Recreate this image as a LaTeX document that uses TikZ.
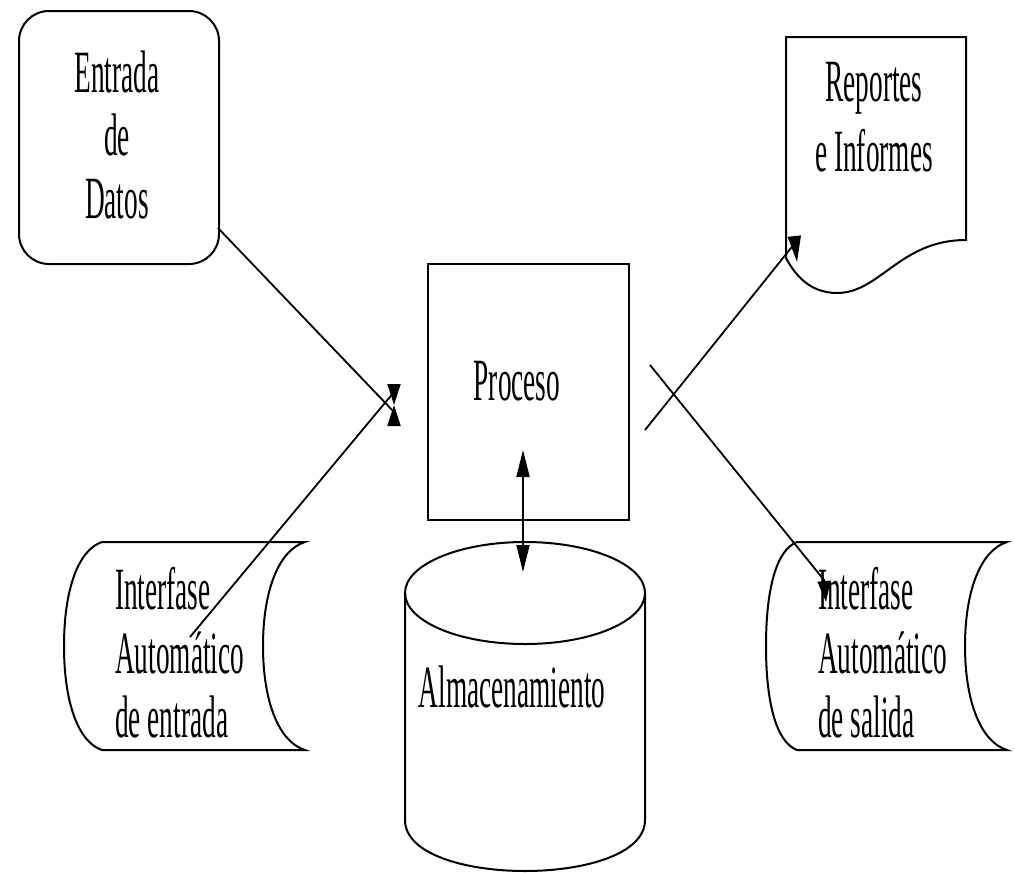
\documentclass[tikz,border=0pt]{standalone}
\usepackage{fontspec}
\setmainfont{Liberation Serif}
\usetikzlibrary{arrows.meta}
\newcommand\sqz[1]{\scalebox{0.455}[1]{#1}}
\begin{document}
\begin{tikzpicture}[x=1pt,y=-1pt,
  shp/.style={draw, line width=2pt},
  conn/.style={line width=1.8pt},
  tipend/.style={-{Triangle[length=21pt,width=13pt]}},
  txt/.style={font=\fontsize{60}{63}\selectfont, inner sep=0pt},
]
\useasboundingbox (0,0) rectangle (1015,873);

% Entrada de Datos
\node[shp, rounded corners=30pt, minimum width=200pt, minimum height=253pt, anchor=north west, inner sep=0pt] (ent) at (18,10) {};
\node[txt, align=center, anchor=north] (entT) at (117,51) {\sqz{Entrada}\\\sqz{de}\\\sqz{Datos}};

% Reportes e Informes (document)
\draw[shp] (786,37) -- (966,37) -- (966,240) .. controls (900,240) and (880,293) .. (837,293) .. controls (810,293) and (795,275) .. (786,258) -- cycle;
\node[txt, font=\fontsize{60}{70}\selectfont, align=center, anchor=north] (repT) at (874,62) {\sqz{Reportes}\\\sqz{e Informes}};

% Proceso
\node[shp, minimum width=201pt, minimum height=256pt, anchor=north west, inner sep=0pt] (proc) at (427,263) {};
\node[txt, anchor=base] (procT) at (517,400) {\sqz{Proceso}};

% Almacenamiento (cylinder)
\draw[shp] (405,593) -- (405,820) .. controls (405,888) and (645,888) .. (645,820) -- (645,593);
\draw[shp] (525,593) ellipse [x radius=120, y radius=51];
\node[txt, anchor=base] (almT) at (512,707) {\sqz{Almacenamiento}};

% Interfase de entrada
\draw[shp] (102,542) -- (305,542)
  .. controls (279,550) and (263,590) .. (263,646)
  .. controls (263,702) and (279,742) .. (305,750)
  -- (102,750)
  .. controls (78,742) and (64,702) .. (64,646)
  .. controls (64,590) and (78,550) .. (102,542) -- cycle;
\node[txt, font=\fontsize{60}{64}\selectfont, align=left, anchor=north west] (tinT) at (115,567) {\sqz{Interfase}\\\sqz{Automático}\\\sqz{de entrada}};

% Interfase de salida
\draw[shp] (797,542) -- (1007,542)
  .. controls (981,550) and (965,590) .. (965,646)
  .. controls (965,702) and (981,742) .. (1007,750)
  -- (797,750)
  .. controls (776,742) and (766,702) .. (766,646)
  .. controls (766,590) and (776,550) .. (797,542) -- cycle;
\node[txt, font=\fontsize{60}{64}\selectfont, align=left, anchor=north west] (toutT) at (818,567) {\sqz{Interfase}\\\sqz{Automático}\\\sqz{de salida}};

% connector endpoints
\coordinate (e1) at (218,228);
\coordinate (i1) at (190,637);
\coordinate (t1) at (394,405);
\coordinate (p3) at (645,430);
\coordinate (r1) at (797,262);
\coordinate (p4) at (650,365);
\coordinate (s1) at (826,602);
\coordinate (pa) at (523,450);
\coordinate (pb) at (523,572);

% connectors
\draw[conn, tipend] (e1) -- (394,412) -- (t1);
\draw[conn, tipend] (i1) -- (394,392) -- (t1);
\draw[conn, tipend, -{Triangle[length=26pt,width=13pt]}] (p3) -- (795,243) -- (r1);
\draw[conn, tipend] (p4) -- (824,580) -- (s1);
\draw[conn, {Triangle[length=27pt,width=13pt]}-{Triangle[length=27pt,width=13pt]}] (pa) -- (pb);
\end{tikzpicture}
\end{document}
